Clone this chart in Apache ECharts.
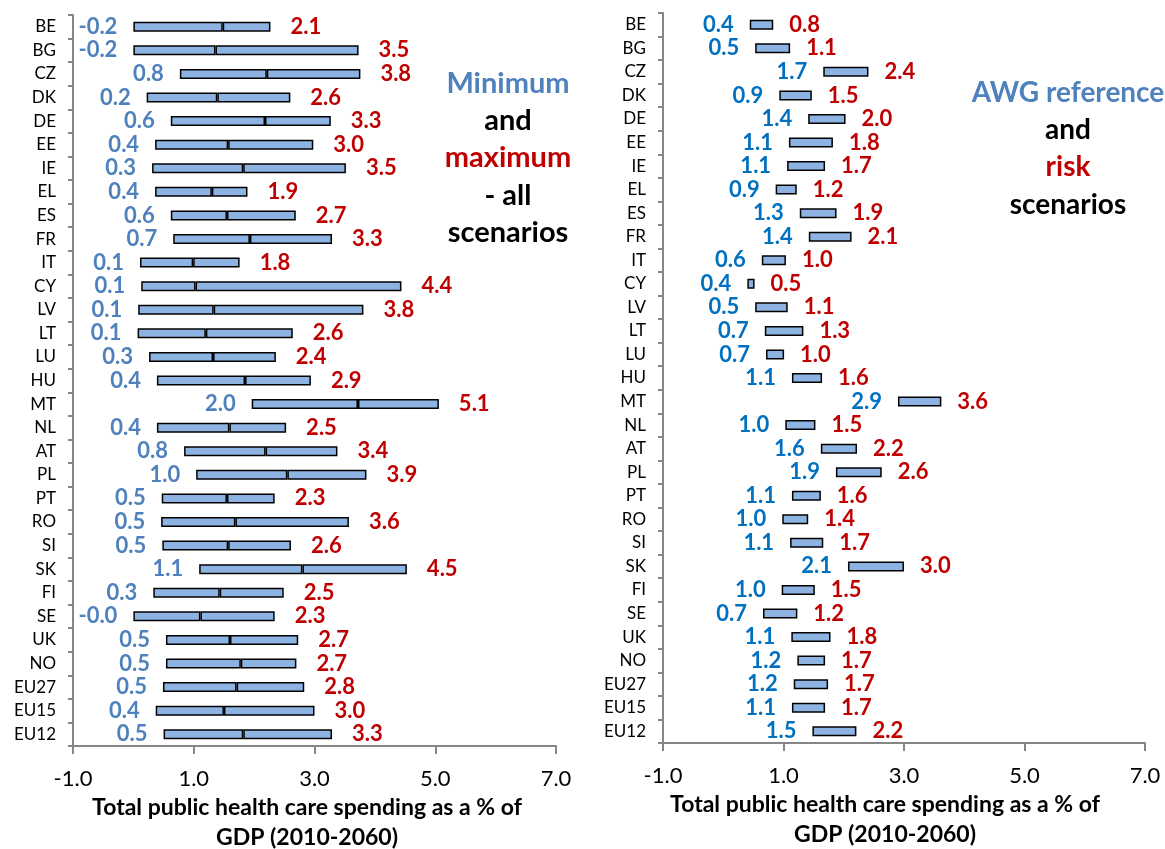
<!DOCTYPE html>
<html>
<head>
<meta charset="utf-8">
<script src="https://cdn.jsdelivr.net/npm/echarts@6/dist/echarts.min.js"></script>
<style>
html,body{margin:0;padding:0;background:#fff;}
#c{width:1165px;height:849px;}
</style>
</head>
<body>
<div id="c"></div>
<script>
const categories = ['BE','BG','CZ','DK','DE','EE','IE','EL','ES','FR','IT','CY','LV','LT','LU','HU','MT','NL','AT','PL','PT','RO','SI','SK','FI','SE','UK','NO','EU27','EU15','EU12'];

// Left panel: minimum, middle marker and maximum of all scenarios
const leftMin = [-0.2,-0.2,0.77,0.22,0.62,0.36,0.31,0.36,0.62,0.66,0.11,0.13,0.08,0.07,0.26,0.39,1.96,0.39,0.84,1.04,0.47,0.46,0.48,1.09,0.33,-0.02,0.54,0.54,0.49,0.37,0.5];
const leftMid = [1.28,1.16,2.21,1.39,2.18,1.57,1.82,1.30,1.55,1.93,0.99,1.03,1.33,1.20,1.32,1.85,3.72,1.59,2.19,2.55,1.55,1.69,1.57,2.80,1.43,1.09,1.60,1.78,1.71,1.50,1.82];
const leftMax = [2.07,3.53,3.76,2.6,3.27,2.98,3.52,1.89,2.69,3.29,1.76,4.44,3.81,2.64,2.36,2.94,5.06,2.53,3.38,3.86,2.34,3.57,2.61,4.53,2.49,2.32,2.73,2.7,2.83,3.0,3.29];

// Right panel: AWG reference and risk scenarios
const rightRef  = [0.44,0.53,1.66,0.93,1.41,1.09,1.06,0.87,1.27,1.42,0.64,0.40,0.53,0.69,0.71,1.14,2.9,1.03,1.62,1.87,1.14,0.98,1.11,2.07,0.97,0.66,1.13,1.23,1.17,1.14,1.48];
const rightRisk = [0.83,1.11,2.41,1.47,2.03,1.82,1.69,1.22,1.88,2.13,1.04,0.52,1.07,1.33,1.01,1.64,3.62,1.53,2.22,2.63,1.62,1.41,1.66,3.0,1.52,1.23,1.78,1.69,1.74,1.69,2.21];

const xMin = -1, xMax = 7, xStep = 2;
const axisTitle = 'Total public health care spending as a % of\nGDP (2010-2060)';

const FONT = 'Lato, "Open Sans", "DejaVu Sans", sans-serif';
const BLUE_L = '#4F81BD';
const BLUE_R = '#0070C0';
const RED = '#C00000';
const FILL = '#8DB3E2';
const AXIS = '#868686';

const fmt = v => v.toFixed(1);

function xAxis(gi){
  return {
    gridIndex: gi, type: 'value', min: xMin, max: xMax, interval: xStep,
    splitLine: {show:false},
    axisLine: {show:true, onZero:false, lineStyle:{color:AXIS, width:2}},
    axisTick: {show:true, length:8, lineStyle:{color:AXIS, width:2}},
    axisLabel: {formatter: v => v.toFixed(1), fontFamily: FONT, fontSize: 22, color:'#000', margin: 22}
  };
}
function yAxis(gi){
  return {
    gridIndex: gi, type: 'category', data: categories, inverse: true,
    axisLine: {show:true, onZero:false, lineStyle:{color:AXIS, width:2}},
    axisTick: {show:true, length:5, lineStyle:{color:AXIS, width:2}},
    axisLabel: {fontFamily: FONT, fontSize: 17, color:'#000', margin: 17}
  };
}

const barStyle = {color: FILL, borderColor:'#000', borderWidth:1.5};
const labelBase = {show:true, fontFamily: FONT, fontWeight:'bold', fontSize:22};

const option = {
  animation: false,
  backgroundColor: '#fff',
  grid: [
    {left:73, width:483, top:15, height:731},
    {left:663, width:482, top:13, height:730}
  ],
  xAxis: [xAxis(0), xAxis(1)],
  yAxis: [yAxis(0), yAxis(1)],
  series: [
    { type:'bar', xAxisIndex:0, yAxisIndex:0, stack:'L', barWidth:10, silent:true,
      data: leftMin, itemStyle:{color:'transparent'} },
    { type:'bar', xAxisIndex:0, yAxisIndex:0, stack:'L', barWidth:10,
      data: leftMid.map((m,i)=> +(m-leftMin[i]).toFixed(3)), itemStyle: barStyle,
      label: Object.assign({}, labelBase, {position:'left', distance:16, color:BLUE_L,
        formatter: p => fmt(leftMin[p.dataIndex])}) },
    { type:'bar', xAxisIndex:0, yAxisIndex:0, stack:'L', barWidth:10,
      data: leftMax.map((m,i)=> +(m-leftMid[i]).toFixed(3)), itemStyle: barStyle,
      label: Object.assign({}, labelBase, {position:'right', distance:20, color:RED,
        formatter: p => fmt(leftMax[p.dataIndex])}) },
    { type:'bar', xAxisIndex:1, yAxisIndex:1, stack:'R', barWidth:10, silent:true,
      data: rightRef, itemStyle:{color:'transparent'},
      label: Object.assign({}, labelBase, {position:'insideRight', distance:16, color:BLUE_R,
        formatter: p => fmt(rightRef[p.dataIndex])}) },
    { type:'bar', xAxisIndex:1, yAxisIndex:1, stack:'R', barWidth:10,
      data: rightRisk.map((m,i)=> +(m-rightRef[i]).toFixed(3)), itemStyle: barStyle,
      label: Object.assign({}, labelBase, {position:'right', distance:16, color:RED,
        formatter: p => fmt(rightRisk[p.dataIndex])}) }
  ],
  graphic: [
    {type:'text', x:508, y:84, style:{text:'Minimum', fill:BLUE_L, font:'bold 29px '+FONT, textAlign:'center', textVerticalAlign:'middle'}},
    {type:'text', x:508, y:121, style:{text:'and', fill:'#000', font:'bold 29px '+FONT, textAlign:'center', textVerticalAlign:'middle'}},
    {type:'text', x:508, y:158, style:{text:'maximum', fill:RED, font:'bold 29px '+FONT, textAlign:'center', textVerticalAlign:'middle'}},
    {type:'text', x:508, y:196, style:{text:'- all', fill:'#000', font:'bold 29px '+FONT, textAlign:'center', textVerticalAlign:'middle'}},
    {type:'text', x:508, y:233, style:{text:'scenarios', fill:'#000', font:'bold 29px '+FONT, textAlign:'center', textVerticalAlign:'middle'}},
    {type:'text', x:1068, y:93, style:{text:'AWG reference', fill:BLUE_L, font:'bold 28px '+FONT, textAlign:'center', textVerticalAlign:'middle'}},
    {type:'text', x:1068, y:130, style:{text:'and', fill:'#000', font:'bold 28px '+FONT, textAlign:'center', textVerticalAlign:'middle'}},
    {type:'text', x:1068, y:167, style:{text:'risk', fill:RED, font:'bold 28px '+FONT, textAlign:'center', textVerticalAlign:'middle'}},
    {type:'text', x:1068, y:205, style:{text:'scenarios', fill:'#000', font:'bold 28px '+FONT, textAlign:'center', textVerticalAlign:'middle'}},
    {type:'text', x:307, y:823, style:{text:axisTitle, fill:'#000', font:'bold 23px '+FONT, textAlign:'center', textVerticalAlign:'middle', lineHeight:30}},
    {type:'text', x:885, y:820, style:{text:axisTitle, fill:'#000', font:'bold 23px '+FONT, textAlign:'center', textVerticalAlign:'middle', lineHeight:30}}
  ]
};

const chart = echarts.init(document.getElementById('c'), null, {renderer:'canvas'});
chart.setOption(option);
</script>
</body>
</html>
